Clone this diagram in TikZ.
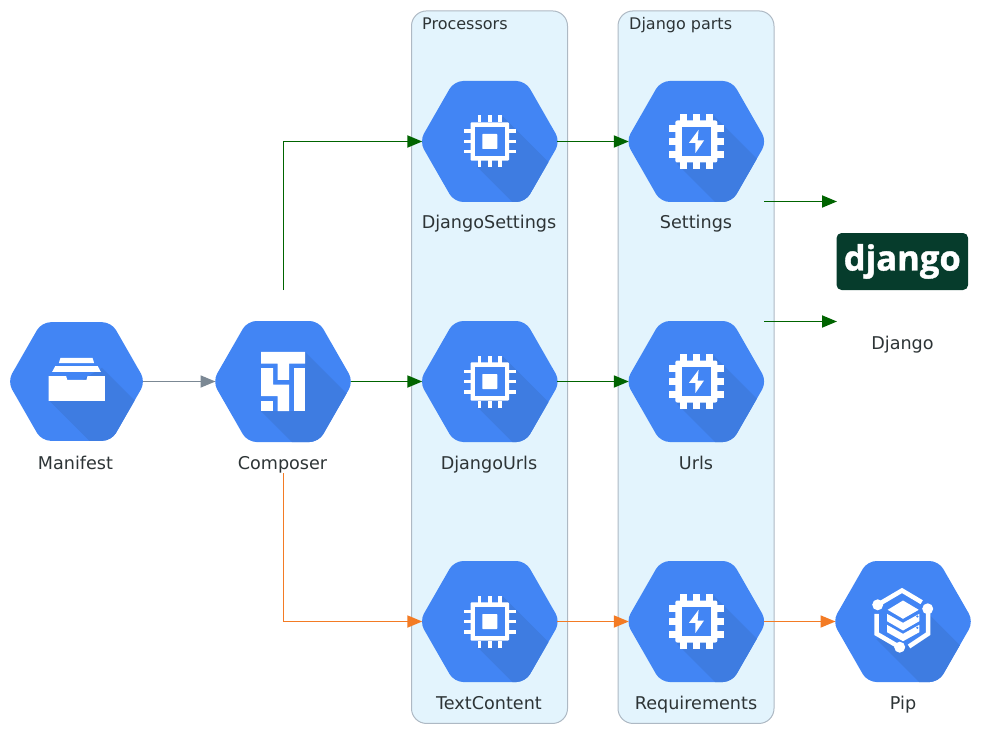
\documentclass[tikz,border=0pt]{standalone}
\usepackage{fontspec}
\setmainfont{DejaVu Sans}
\newfontfamily\logofont[BoldFeatures={FakeBold=1.2}]{Open Sans}
\usetikzlibrary{arrows.meta}
\definecolor{hexblue}{HTML}{4285F4}
\definecolor{hexshade}{HTML}{3E7CE1}
\definecolor{clusterfill}{HTML}{E3F4FD}
\definecolor{clusterline}{HTML}{AEB9C4}
\definecolor{textgrey}{HTML}{2D3436}
\definecolor{flowgreen}{HTML}{006400}
\definecolor{floworange}{HTML}{F37B24}
\definecolor{flowgrey}{HTML}{7B8894}
\definecolor{djangogreen}{HTML}{063C2C}

\begin{document}
\begin{tikzpicture}[x=1pt,y=-1pt]
  \tikzset{hexnode/.style = {shape=rectangle,minimum width=135pt,minimum height=121pt,inner sep=0pt,outer sep=0pt}}
  \tikzset{hexlabel/.style = {anchor=base,inner sep=0pt,text=textgrey,font=\fontsize{17.6}{20}\selectfont}}
  \tikzset{clusterbox/.style = {shape=rectangle,draw=clusterline,fill=clusterfill,rounded corners=15pt,line width=1pt,minimum width=156pt,minimum height=712.5pt}}
  \tikzset{clustername/.style = {anchor=base west,inner sep=0pt,text=textgrey,font=\fontsize{16}{19}\selectfont}}
  \tikzset{logobox/.style = {shape=rectangle,fill=djangogreen,rounded corners=5pt,text=white,minimum width=131.5pt,minimum height=57pt,inner sep=0pt,font=\logofont\bfseries\fontsize{34.6}{35}\selectfont}}
  \tikzset{edge/.style = {-{Triangle[length=15pt,width=12pt]},line width=1.8pt}}
  % hexagon with its fold, #1,#2 and #3,#4 start the two edges of the fold
  \tikzset{pics/hexbase/.style n args = {4}{code={
    \fill[hexblue,rounded corners=9pt] (-35.7,-60.5) -- (35.7,-60.5) -- (70.4,0) -- (35.7,60.5) -- (-35.7,60.5) -- (-70.4,0) -- cycle;
    \begin{scope}
      \clip[rounded corners=9pt] (-35.7,-60.5) -- (35.7,-60.5) -- (70.4,0) -- (35.7,60.5) -- (-35.7,60.5) -- (-70.4,0) -- cycle;
      \fill[hexshade] (#1,#2) -- (#1+100,#2+100) -- (#3+100,#4+100) -- (#3,#4) -- cycle;
    \end{scope}
  }}}
  \tikzset{pics/manifesticon/.style = {code={
    \fill[white] (-28,-5.3) -- (-10.3,-5.3) -- (-9.3,-1.7) -- (10,-1.7) -- (11,-5.3) -- (28.3,-5.3) -- (28.3,19.3) -- (-28,19.3) -- cycle;
    \fill[white] (-24.3,-9.7) -- (-21.3,-15.3) -- (21.3,-15.3) -- (24.3,-9.7) -- cycle;
    \fill[white] (-17.7,-18.3) -- (-16,-23.7) -- (16,-23.7) -- (17.7,-18.3) -- cycle;
  }}}
  \tikzset{pics/composericon/.style = {code={
    \fill[hexblue] (-22,-29.7) rectangle (22,29.7);
    \fill[white] (-22,-29.7) -- (22,-29.7) -- (22,-18) -- (6,-18) -- (6,-1.7) -- (-5.3,-1.7) -- (-5.3,-18) -- (-22,-18) -- cycle;
    \fill[white] (10.7,-13.3) rectangle (22,29.7);
    \fill[white] (-22,-13.3) -- (-10,-13.3) -- (-10,3) -- (6,3) -- (6,29.7) -- (-5.3,29.7) -- (-5.3,14.7) -- (-22,14.7) -- cycle;
    \fill[white] (-22,19.3) rectangle (-10,29.7);
  }}}
  \tikzset{pics/chipicon/.style = {code={
    \fill[white,rounded corners=1pt] (-19.2,-19.2) rectangle (19.2,19.2);
    \fill[hexblue] (-14.8,-14.8) rectangle (14.8,14.8);
    \fill[white,rounded corners=.6pt] (-7.5,-7.5) rectangle (7.5,7.5);
    \foreach \p in {-10.3,0,10.3} {
      \foreach \s in {-1,1} {
        \fill[white] (\p-1.7,19*\s) rectangle (\p+1.7,26*\s);
        \fill[white] (19*\s,\p-1.7) rectangle (26*\s,\p+1.7);
      }
    }
  }}}
  \tikzset{pics/sparkicon/.style = {code={
    \fill[white,rounded corners=2pt] (-21,-21) rectangle (21,21);
    \fill[hexblue] (-14.7,-14.7) rectangle (14.7,14.7);
    \fill[white] (2.3,-11.7) -- (-7.3,1.3) -- (-1,1.3) -- (-1,11.7) -- (7.7,-1) -- (1.3,-1) -- cycle;
    \foreach \p in {-13,0,13} {
      \foreach \s in {-1,1} {
        \fill[white] (\p-3.3,20*\s) rectangle (\p+3.3,27.7*\s);
        \fill[white] (20*\s,\p-3.3) rectangle (27.7*\s,\p+3.3);
      }
    }
  }}}
  \tikzset{pics/pipicon/.style = {code={
    \fill[hexblue] (-1,-31) -- (25,-16) -- (25,12.3) -- (0,27) -- (-26.3,12.3) -- (-26.3,-16.7) -- cycle;
    \draw[white,line width=4.5pt] (-25.3,-16.7) -- (-1,-31) -- (18.7,-19.3);
    \draw[white,line width=4.5pt] (25,-12.7) -- (25,12.3) -- (6,25);
    \draw[white,line width=4.5pt] (-3.3,25.7) -- (-26.3,12.3) -- (-26.3,-7.7);
    \fill[white] (-25.3,-16.7) circle (5.5);
    \fill[white] (24.7,-12.7) circle (5.5);
    \fill[white] (-3.3,25.7) circle (5.5);
    \fill[white] (-15.3,-11.7) -- (0,-21) -- (15.7,-11.7) -- (0,-2.7) -- cycle;
    \fill[white] (-16,-7.7) -- (0,1.3) -- (16.3,-7.7) -- (16.3,-0.3) -- (0,9) -- (-16,-0.3) -- cycle;
    \fill[white] (-16,3.3) -- (0,12.3) -- (16.3,3.3) -- (16.3,10.7) -- (0,19.7) -- (-16,10.7) -- cycle;
    \fill[hexblue] (14.3,-5) circle (1.2);
    \fill[hexblue] (14.3,6.3) circle (1.2);
  }}}
  \path[use as bounding box] (0,0) rectangle (981,735);

  % clusters
  \node[clusterbox] (processors) at (489.5,367.2) {};
  \node[clusterbox] (djangoparts) at (696,367.2) {};
  \node[clustername] (processorsname) at (422,30) {Processors};
  \node[clustername] (djangopartsname) at (629,30) {Django parts};

  % left side
  \pic[scale=.98] at (76.5,381.5) {hexbase={26}{-14}{-28}{19.3}};
  \pic at (76.5,381.5) {manifesticon};
  \node[hexnode,minimum width=133pt] (manifest) at (76.5,381.5) {};
  \node[hexlabel] (manifestlabel) at (75.5,469) {Manifest};

  \pic at (283,381.5) {hexbase={22}{-29.7}{-22}{29.7}};
  \pic at (283,381.5) {composericon};
  \node[hexnode] (composer) at (283,381.5) {};
  \node[hexlabel] (composerlabel) at (282.5,469) {Composer};
  \coordinate (composertop) at (283.5,290);
  \coordinate (composerbottom) at (283.5,473);

  % processors
  \foreach \name/\lab/\y in {djangosettings/DjangoSettings/141.5,djangourls/DjangoUrls/381.5,textcontent/TextContent/621.5} {
    \pic at (489.8,\y) {hexbase={13}{-25}{-13}{25}};
    \pic at (489.8,\y) {chipicon};
    \node[hexnode] (\name) at (489.8,\y) {};
    \node[hexlabel] (\name label) at (489,\y+87.5) {\lab};
  }

  % django parts
  \foreach \name/\lab/\y in {settings/Settings/141.5,urls/Urls/381.5,requirements/Requirements/621.5} {
    \pic at (696.3,\y) {hexbase={15.7}{-27.7}{-19.3}{22.3}};
    \pic at (696.3,\y) {sparkicon};
    \node[hexnode] (\name) at (696.3,\y) {};
    \node[hexlabel] (\name label) at (696,\y+87.5) {\lab};
  }

  % targets
  \node[logobox] (djangologo) at (902.3,261.5) {django};
  \node[hexlabel] (djangolabel) at (902.5,349) {Django};
  \coordinate (settingsout) at (764,201.5);
  \coordinate (urlsout) at (764,321.5);
  \coordinate (djangoin) at (837,201.5);
  \coordinate (djangoinb) at (837,321.5);

  \pic at (903,621.5) {hexbase={25}{-8}{-26.7}{17.7}};
  \pic at (903,621.5) {pipicon};
  \node[hexnode] (pip) at (903,621.5) {};
  \node[hexlabel] (piplabel) at (903,709) {Pip};

  % connectors
  \draw[edge,draw=flowgrey] (manifest) -- (composer);
  \draw[edge,draw=flowgreen] (composertop) |- (djangosettings.west);
  \draw[edge,draw=floworange] (composerbottom) |- (textcontent.west);
  \foreach \from/\to in {composer/djangourls,djangosettings/settings,djangourls/urls,settingsout/djangoin,urlsout/djangoinb}
    \path[edge,draw=flowgreen] (\from) -- (\to);
  \foreach \from/\to in {textcontent/requirements,requirements/pip}
    \path[edge,draw=floworange] (\from) -- (\to);
\end{tikzpicture}
\end{document}
